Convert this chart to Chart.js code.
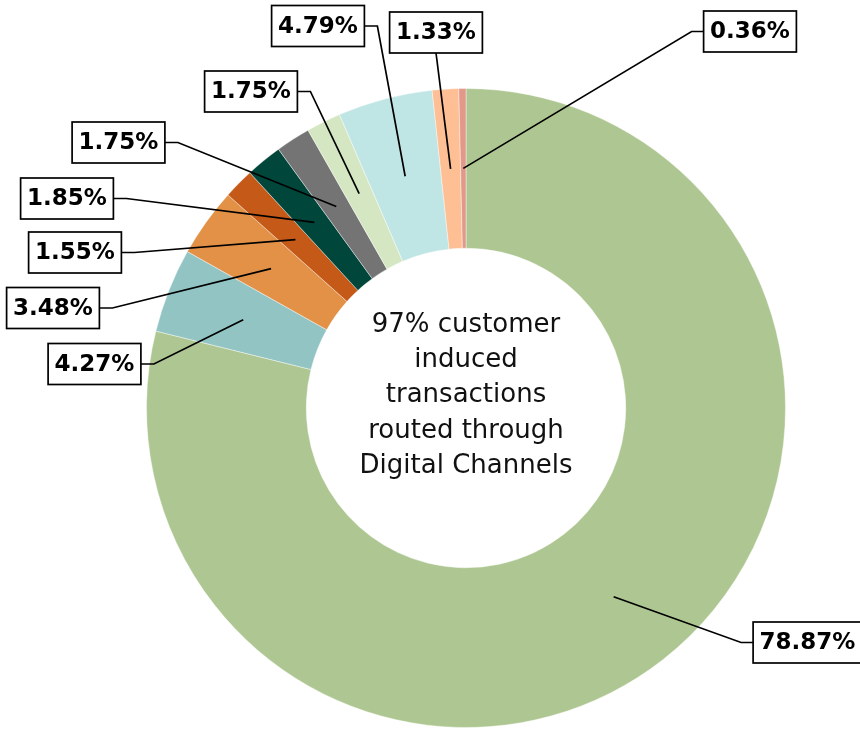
<!DOCTYPE html>
<html lang="en">
<head>
    <meta charset="UTF-8">
    <title>Digital Channels share</title>
    <style>
        body {
            margin: 0;
            background: #ffffff;
        }
        #chart-box {
            width: 860px;
            height: 729px;
        }
    </style>
</head>
<body>
    <div id="chart-box">
        <canvas id="share-chart" width="860" height="729"></canvas>
    </div>

    <script src="https://cdn.jsdelivr.net/npm/chart.js"></script>
    <script>
        // slice values (%), clockwise from 12 o'clock
        const shares = [78.87, 4.27, 3.48, 1.55, 1.85, 1.75, 1.75, 4.79, 1.33, 0.36];
        const shareLabels = ['78.87%', '4.27%', '3.48%', '1.55%', '1.85%', '1.75%', '1.75%', '4.79%', '1.33%', '0.36%'];
        const sliceColors = ['#aec792', '#93c4c4', '#e39146', '#c55a18', '#01463b', '#747474',
                             '#d5e7c2', '#c0e5e5', '#fdbf93', '#e2998a'];
        const centerLines = ['97% customer', 'induced', 'transactions', 'routed through', 'Digital Channels'];

        // where each label box sits, relative to the doughnut centre,
        // and which side of the box the leader line leaves from
        const boxOffsets = [[341.5, 234.5], [-371.5, -44], [-413, -100], [-391, -155.5], [-399, -209.5],
                            [-347.5, -265.5], [-215, -316.5], [-148, -382], [-30, -375.5], [284, -376.5]];
        const leaderSide = ['left', 'right', 'right', 'right', 'right', 'right', 'right', 'right', 'bottom', 'left'];

        const labelFont = 'bold 23px "DejaVu Sans"';
        const centerFont = '26px "DejaVu Sans"';

        const calloutPlugin = {
            id: 'callouts',
            afterDatasetsDraw(chart) {
                const c = chart.ctx;
                const arcs = chart.getDatasetMeta(0).data;
                c.save();
                c.font = labelFont;
                c.lineWidth = 1.7;
                c.strokeStyle = '#000';
                arcs.forEach((arc, i) => {
                    const p = arc.getProps(['x', 'y', 'startAngle', 'endAngle', 'innerRadius', 'outerRadius'], true);
                    const mid = (p.startAngle + p.endAngle) / 2;
                    const r = (p.innerRadius + p.outerRadius) / 2;
                    const ax = p.x + r * Math.cos(mid);
                    const ay = p.y + r * Math.sin(mid);

                    const w = c.measureText(shareLabels[i]).width + 13;
                    const h = 41;
                    const bx = p.x + boxOffsets[i][0];
                    const by = p.y + boxOffsets[i][1];

                    // leader line
                    c.beginPath();
                    if (leaderSide[i] === 'right') {
                        c.moveTo(bx + w / 2, by);
                        c.lineTo(bx + w / 2 + 13, by);
                    } else if (leaderSide[i] === 'left') {
                        c.moveTo(bx - w / 2, by);
                        c.lineTo(bx - w / 2 - 12, by);
                    } else {
                        c.moveTo(bx, by + h / 2);
                    }
                    c.lineTo(ax, ay);
                    c.stroke();

                    // box
                    c.fillStyle = '#fff';
                    c.fillRect(bx - w / 2, by - h / 2, w, h);
                    c.strokeRect(bx - w / 2, by - h / 2, w, h);
                    c.fillStyle = '#000';
                    c.textAlign = 'center';
                    c.textBaseline = 'middle';
                    c.fillText(shareLabels[i], bx, by + 1);
                });

                // centre text
                const first = arcs[0];
                c.font = centerFont;
                c.fillStyle = '#111';
                c.textAlign = 'center';
                c.textBaseline = 'alphabetic';
                centerLines.forEach((line, k) => {
                    c.fillText(line, first.x, first.y - 76 + k * 35.2);
                });
                c.restore();
            }
        };

        new Chart(document.getElementById('share-chart'), {
            type: 'doughnut',
            data: {
                labels: shareLabels,
                datasets: [{
                    data: shares,
                    backgroundColor: sliceColors,
                    borderColor: 'rgba(255,255,255,0.4)',
                    borderWidth: 1
                }]
            },
            options: {
                responsive: false,
                animation: false,
                cutout: '50%',
                layout: {
                    padding: { top: 88, bottom: 1, left: 146, right: 74 }
                },
                plugins: {
                    legend: { display: false },
                    tooltip: { enabled: false }
                }
            },
            plugins: [calloutPlugin]
        });
    </script>
</body>
</html>
